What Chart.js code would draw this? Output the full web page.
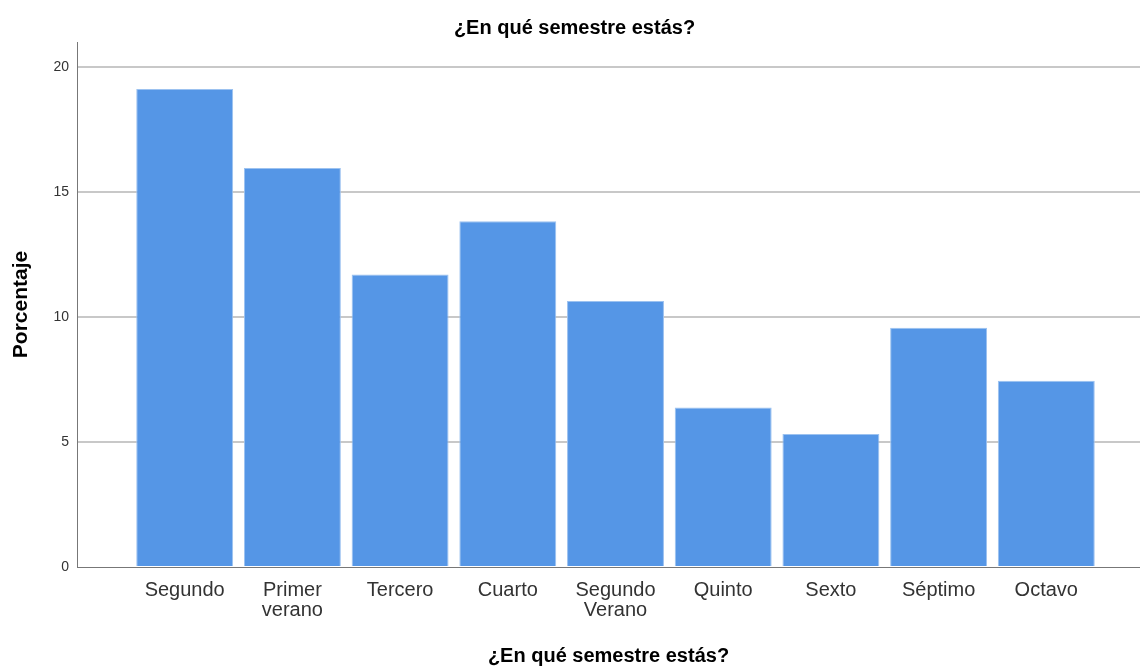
<!DOCTYPE html>
<html>
<head>
<meta charset="utf-8">
<script src="https://cdn.jsdelivr.net/npm/chart.js@4"></script>
<style>
  html, body { margin: 0; padding: 0; background: #fff; }
  #wrap { width: 1140px; height: 667px; }
</style>
</head>
<body>
<div id="wrap"><canvas id="chart"></canvas></div>
<script>
// Categories and values (percent)
const categories = ['Segundo', ['Primer', 'verano'], 'Tercero', 'Cuarto', ['Segundo', 'Verano'], 'Quinto', 'Sexto', 'Séptimo', 'Octavo'];
const percentages = [19.12, 15.96, 11.70, 13.83, 10.64, 6.38, 5.32, 9.57, 7.45];
const yTicks = [0, 5, 10, 15, 20];

const points = percentages.map((v, i) => ({ x: i, y: v }));

const ctx = document.getElementById('chart').getContext('2d');
new Chart(ctx, {
  type: 'bar',
  data: {
    datasets: [{
      data: points,
      backgroundColor: '#5596e6',
      borderColor: '#9cc2f0',
      borderWidth: 1,
      barPercentage: 0.9,
      categoryPercentage: 1.0
    }]
  },
  options: {
    responsive: true,
    maintainAspectRatio: false,
    animation: false,
    layout: { padding: { left: 9, right: 0, top: 0, bottom: 0 } },
    plugins: {
      legend: { display: false },
      tooltip: { enabled: false },
      title: {
        display: true,
        text: '¿En qué semestre estás?',
        color: '#000',
        font: { family: 'Arial, Liberation Sans', size: 20, weight: 'bold' },
        padding: { top: 16, bottom: 2 }
      }
    },
    scales: {
      x: {
        type: 'linear',
        offset: false,
        min: -1,
        max: 8.87,
        grid: { display: false, drawTicks: false },
        border: { display: true, color: '#777', width: 1 },
        afterBuildTicks: (s) => { s.ticks = s.ticks.filter(t => Number.isInteger(t.value)); },
        ticks: {
          stepSize: 1,
          autoSkip: false,
          maxRotation: 0,
          padding: 13,
          color: '#333',
          font: { family: 'Arial, Liberation Sans', size: 20, lineHeight: 1.0 },
          callback: (v) => (Number.isInteger(v) && v >= 0 && v < categories.length) ? categories[v] : ''
        },
        title: {
          display: true,
          text: '¿En qué semestre estás?',
          color: '#000',
          font: { family: 'Arial, Liberation Sans', size: 20, weight: 'bold', lineHeight: 1.0 },
          padding: { top: 18, bottom: 1 }
        },
        afterFit: (s) => { s.height = 100; s.paddingLeft = 0; s.paddingRight = 0; }
      },
      y: {
        min: 0,
        max: 21,
        grid: {
          color: (c) => (c.tick && yTicks.includes(c.tick.value) && c.tick.value !== 0) ? '#c8c8c8' : 'rgba(0,0,0,0)',
          lineWidth: 2,
          drawTicks: false
        },
        border: { display: true, color: '#777', width: 1 },
        ticks: {
          stepSize: 5,
          padding: 8,
          color: '#333',
          font: { family: 'Arial, Liberation Sans', size: 14 },
          callback: (v) => yTicks.includes(v) ? v : ''
        },
        title: {
          display: true,
          text: 'Porcentaje',
          color: '#000',
          font: { family: 'Arial, Liberation Sans', size: 21, weight: 'bold' },
          padding: { top: 0, bottom: 14 }
        },
        afterFit: (s) => { s.width = 68; }
      }
    }
  }
});
</script>
</body>
</html>
